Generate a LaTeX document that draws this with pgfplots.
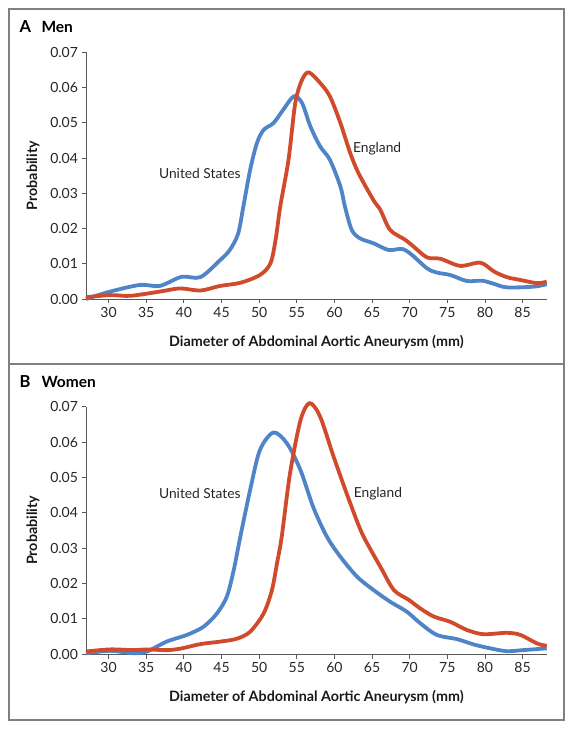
\documentclass[border=0pt]{standalone}
\usepackage{pgfplots}
\pgfplotsset{compat=1.18}
\usepackage{fontspec}
\setmainfont{Lato}
\definecolor{usblue}{RGB}{80,132,200}
\definecolor{engred}{RGB}{208,75,44}
\definecolor{framegray}{RGB}{128,128,128}
\definecolor{axgray}{RGB}{90,90,90}

\pgfplotstableread{
x y
27 0
30.2 0.0021
34.2 0.0040
36.8 0.0037
39.7 0.0063
42.2 0.0062
44.8 0.0110
46.1 0.0139
47.2 0.0185
47.9 0.0262
48.8 0.0366
49.7 0.0442
50.6 0.0480
51.9 0.0499
53.2 0.0537
54.6 0.0575
55.7 0.0556
56.8 0.0490
58.1 0.0433
59.4 0.0395
60.8 0.0319
61.4 0.0262
62.3 0.0196
63.4 0.0172
65.2 0.0158
67.2 0.0139
69.0 0.0142
70.3 0.0125
72.3 0.0087
73.6 0.0075
75.4 0.0068
77.6 0.0051
79.6 0.0052
81.2 0.0043
82.9 0.0033
86.5 0.0035
88.2 0.0042
}\menus

\pgfplotstableread{
x y
27 0.0005
30.2 0.0011
32.9 0.0009
36.8 0.0021
39.5 0.0030
42.2 0.0024
44.8 0.0037
47.5 0.0046
50.1 0.0068
51.5 0.0101
52.2 0.0170
52.8 0.0262
53.9 0.0395
54.8 0.0556
55.7 0.0622
56.6 0.0643
58.1 0.0613
59.4 0.0575
60.8 0.0499
62.1 0.0414
63.2 0.0357
65.2 0.0280
66.1 0.0253
67.4 0.0196
69.4 0.0168
70.5 0.0149
72.3 0.0118
74.1 0.0114
76.7 0.0094
79.4 0.0103
81.2 0.0078
82.9 0.0062
84.7 0.0054
86.9 0.0045
88.2 0.0049
}\meneng

\pgfplotstableread{
x y
27 0.0002
30.2 0.0009
33.3 0.0002
35.1 0.0007
37.7 0.0035
40.4 0.0054
42.6 0.0077
44.4 0.0115
45.7 0.0162
46.6 0.0235
47.5 0.0332
48.8 0.0464
50.1 0.0577
51.9 0.0627
53.7 0.0596
55.5 0.0520
57.2 0.0415
59.0 0.0332
60.8 0.0275
63.0 0.0219
65.2 0.0181
67.4 0.0148
69.6 0.0120
71.4 0.0087
73.6 0.0054
76.3 0.0042
78.5 0.0027
80.7 0.0016
82.9 0.0008
85.1 0.0011
88.2 0.0016
}\womus

\pgfplotstableread{
x y
27 0.0007
30.2 0.0013
33.3 0.0011
35.1 0.0013
37.7 0.0011
39.5 0.0015
42.2 0.0028
44.8 0.0035
47.0 0.0043
48.8 0.0063
50.6 0.0115
51.7 0.0181
52.4 0.0260
53.0 0.0332
54.1 0.0511
55.5 0.0662
56.7 0.0710
58.1 0.0672
59.9 0.0558
61.7 0.0450
63.2 0.0365
64.1 0.0323
66.1 0.0247
67.9 0.0181
69.9 0.0153
71.4 0.0129
73.2 0.0106
75.4 0.0091
77.6 0.0068
79.8 0.0056
82.9 0.0060
84.7 0.0054
86.9 0.0030
88.2 0.0023
}\womeng

\pgfplotsset{myax/.style={
  scale only axis, width=460.7pt,
  xmin=27, xmax=88.2, ymin=0, ymax=0.07,
  axis lines=left, axis line style={-, axgray, line width=0.8pt},
  tick style={axgray, line width=0.8pt}, major tick length=4.5pt, tick align=outside,
  xtick={30,35,40,45,50,55,60,65,70,75,80,85},
  ytick={0,0.01,0.02,0.03,0.04,0.05,0.06,0.07},
  yticklabels={0.00,0.01,0.02,0.03,0.04,0.05,0.06,0.07},
  scaled y ticks=false,
  ticklabel style={font=\fontsize{14}{16}\selectfont, text=black!85},
  /pgf/number format/assume math mode=true,
  xlabel={Diameter of Abdominal Aortic Aneurysm (mm)},
  ylabel={Probability},
  label style={font=\fontsize{14.3}{17}\selectfont\bfseries, text=black!90},
  xlabel style={at={(axis description cs:0.5,-0.174)}, anchor=center},
  ylabel style={at={(axis description cs:-0.115,0.5)}, anchor=center},
  clip=false,
  every axis plot/.append style={line width=3.8pt, smooth, tension=0.5, no marks},
}}

\begin{document}
\begin{tikzpicture}
\path[use as bounding box] (0,0) rectangle (574pt,730pt);
\draw[framegray, line width=1.4pt] (9pt,721pt) rectangle (564pt,10pt);
\draw[framegray, line width=1.4pt] (9pt,366pt) -- (564pt,366pt);

\node[anchor=west, font=\fontsize{16.5}{18}\selectfont\bfseries] at (16pt,703pt) {A};
\node[anchor=west, font=\fontsize{15.5}{18}\selectfont\bfseries] at (38pt,703pt) {Men};
\node[anchor=west, font=\fontsize{16.5}{18}\selectfont\bfseries] at (16pt,348pt) {B};
\node[anchor=west, font=\fontsize{15.5}{18}\selectfont\bfseries] at (38pt,348pt) {Women};

\begin{axis}[myax, height=246.7pt, at={(86pt,431pt)}, anchor=south west]
\addplot[usblue] table {\menus};
\addplot[engred] table {\meneng};
\node[anchor=east, font=\fontsize{13.8}{16}\selectfont, text=black!85] at (axis cs:48.0,0.0355) {United States};
\node[anchor=west, font=\fontsize{13.8}{16}\selectfont, text=black!85] at (axis cs:62.0,0.0426) {England};
\end{axis}

\begin{axis}[myax, height=247.3pt, at={(86pt,76pt)}, anchor=south west]
\addplot[usblue] table {\womus};
\addplot[engred] table {\womeng};
\node[anchor=east, font=\fontsize{13.8}{16}\selectfont, text=black!85] at (axis cs:48.0,0.0455) {United States};
\node[anchor=west, font=\fontsize{13.8}{16}\selectfont, text=black!85] at (axis cs:62.1,0.0455) {England};
\end{axis}
\end{tikzpicture}
\end{document}
